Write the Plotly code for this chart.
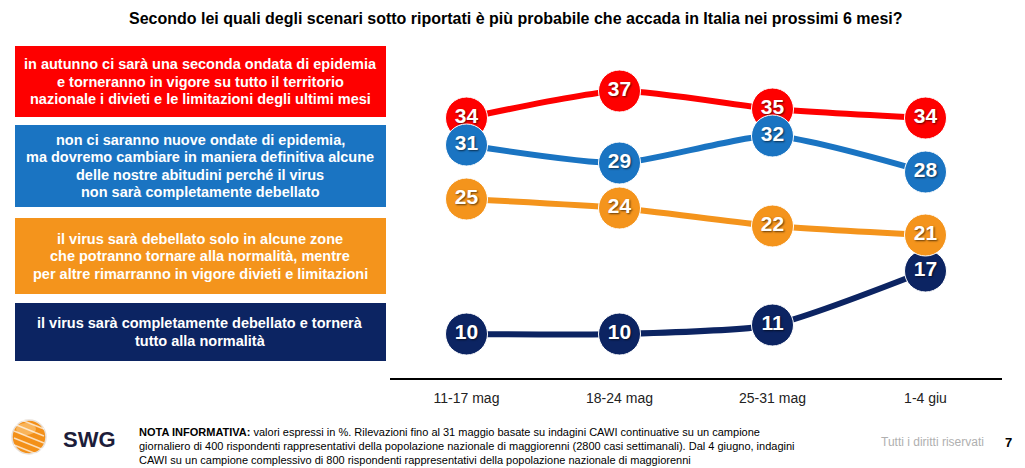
import plotly.graph_objects as go

W, H = 1025, 468
OFF = 8  # page body margin in the browser

periods = ["11-17 mag", "18-24 mag", "25-31 mag", "1-4 giu"]
red_vals = [34, 37, 35, 34]
blue_vals = [31, 29, 32, 28]
orange_vals = [25, 24, 22, 21]
navy_vals = [10, 10, 11, 17]

red_label = ["in autunno ci sarà una seconda ondata di epidemia",
             "e torneranno in vigore su tutto il territorio",
             "nazionale i divieti e le limitazioni degli ultimi mesi"]
blue_label = ["non ci saranno nuove ondate di epidemia,",
              "ma dovremo cambiare in maniera definitiva alcune",
              "delle nostre abitudini perché il virus",
              "non sarà completamente debellato"]
orange_label = ["il virus sarà debellato solo in alcune zone",
                "che potranno tornare alla normalità, mentre",
                "per altre rimarranno in vigore divieti e limitazioni"]
navy_label = ["il virus sarà completamente debellato e tornerà",
              "tutto alla normalità"]

RED = "#fe0000"
BLUE = "#1a74c2"
ORANGE = "#f4941c"
NAVY = "#0c2462"

title_text = "Secondo lei quali degli scenari sotto riportati è più probabile che accada in Italia nei prossimi 6 mesi?"
note_lines = [
    "<b>NOTA INFORMATIVA:</b> valori espressi in %. Rilevazioni fino al 31 maggio basate su indagini CAWI continuative su un campione",
    "giornaliero di 400 rispondenti rappresentativi della popolazione nazionale di maggiorenni (2800 casi settimanali). Dal 4 giugno, indagini",
    "CAWI su un campione complessivo di 800 rispondenti rappresentativi della popolazione nazionale di maggiorenni",
]

def px_x(x):
    return (x - OFF) / W

def px_y(y):
    return 1 - (y - OFF) / H

fig = go.Figure()

series = [
    (red_vals, RED),
    (blue_vals, BLUE),
    (navy_vals, NAVY),
    (orange_vals, ORANGE),
]
for vals, col in series:
    fig.add_trace(go.Scatter(
        x=list(range(len(periods))), y=vals,
        mode="lines+markers+text",
        line=dict(color=col, width=6, shape="spline", smoothing=0.6),
        marker=dict(size=42, color=col, line=dict(color="white", width=1)),
        text=[str(v) for v in vals],
        textposition="middle center",
        textfont=dict(family="Arial", size=21, color="white", weight="bold",
                      shadow="1px 1px 2px rgba(0,0,0,0.6)"),
        hoverinfo="skip",
        showlegend=False,
        cliponaxis=False,
    ))

plot_top, plot_bot = 60, 378
fig.update_layout(
    width=W, height=H,
    margin=dict(l=0, r=0, t=0, b=0),
    paper_bgcolor="white", plot_bgcolor="white",
    xaxis=dict(
        domain=[px_x(390), px_x(1002)],
        range=[-0.5, 3.5],
        tickmode="array", tickvals=list(range(len(periods))), ticktext=periods,
        showgrid=False, zeroline=False,
        showline=True, linecolor="black", linewidth=1.5,
        ticks="", ticklabelstandoff=6,
        tickfont=dict(family="Arial", size=14, color="#222"),
        fixedrange=True,
    ),
    yaxis=dict(
        domain=[px_y(plot_bot), px_y(plot_top)],
        range=[37 - (plot_bot - 91) / 9.0, 37 + (91 - plot_top) / 9.0],
        visible=False, showgrid=False, zeroline=False, fixedrange=True,
    ),
)

shapes = []
annotations = []

# Title
annotations.append(dict(
    x=px_x(516), y=px_y(18), xref="paper", yref="paper",
    text="<b>" + title_text + "</b>", showarrow=False,
    xanchor="center", yanchor="middle",
    font=dict(family="Arial", size=16, color="black"),
))

# Left boxes with per-line text
boxes = [(46, 117, RED, red_label), (125, 207, BLUE, blue_label),
         (218, 294, ORANGE, orange_label), (303, 361, NAVY, navy_label)]
LS = 17.5
for y0, y1, col, lines in boxes:
    shapes.append(dict(type="rect", xref="paper", yref="paper",
                       x0=px_x(15), x1=px_x(386), y0=px_y(y1), y1=px_y(y0),
                       fillcolor=col, line=dict(width=0), layer="below"))
    yc = (y0 + y1) / 2
    n = len(lines)
    for i, ln in enumerate(lines):
        yy = yc + (i - (n - 1) / 2) * LS
        annotations.append(dict(
            x=px_x(200), y=px_y(yy), xref="paper", yref="paper",
            text="<b>" + ln + "</b>", showarrow=False,
            xanchor="center", yanchor="middle", align="center",
            font=dict(family="Arial", size=14.5, color="white"),
        ))

# Footer note
for i, line in enumerate(note_lines):
    annotations.append(dict(
        x=px_x(137), y=px_y(432 + 14 * i), xref="paper", yref="paper",
        text=line, showarrow=False, xanchor="left", yanchor="middle",
        font=dict(family="Arial", size=11, color="black"),
    ))

annotations.append(dict(
    x=px_x(986), y=px_y(442), xref="paper", yref="paper",
    text="Tutti i diritti riservati", showarrow=False, xanchor="right", yanchor="middle",
    font=dict(family="Arial", size=12, color="#b0b0b0"),
))
annotations.append(dict(
    x=px_x(1008), y=px_y(442), xref="paper", yref="paper",
    text="<b>7</b>", showarrow=False, xanchor="center", yanchor="middle",
    font=dict(family="Arial", size=13, color="black"),
))

# Logo
cx, cy, r = 29, 437, 17
shapes.append(dict(type="circle", xref="paper", yref="paper",
                   x0=px_x(cx - r), x1=px_x(cx + r), y0=px_y(cy + r), y1=px_y(cy - r),
                   fillcolor="#f39019", line=dict(color="#e8e0d8", width=1.5)))
shapes.append(dict(type="circle", xref="paper", yref="paper",
                   x0=px_x(cx - r + 4), x1=px_x(cx + r - 10), y0=px_y(cy - 2), y1=px_y(cy - r + 3),
                   fillcolor="#f9b45a", line=dict(width=0)))
for k in range(-2, 3):
    off = k * 7
    shapes.append(dict(type="line", xref="paper", yref="paper",
                       x0=px_x(cx - r + 2), y0=px_y(cy + off - 6),
                       x1=px_x(cx + r - 2), y1=px_y(cy + off + 6),
                       line=dict(color="rgba(255,255,255,0.7)", width=1.5)))
annotations.append(dict(
    x=px_x(61), y=px_y(439), xref="paper", yref="paper",
    text="<b>SWG</b>", showarrow=False, xanchor="left", yanchor="middle",
    font=dict(family="Arial", size=22, color="#1d1d3a"),
))

fig.update_layout(shapes=shapes, annotations=annotations)

fig.write_html("out.html")
